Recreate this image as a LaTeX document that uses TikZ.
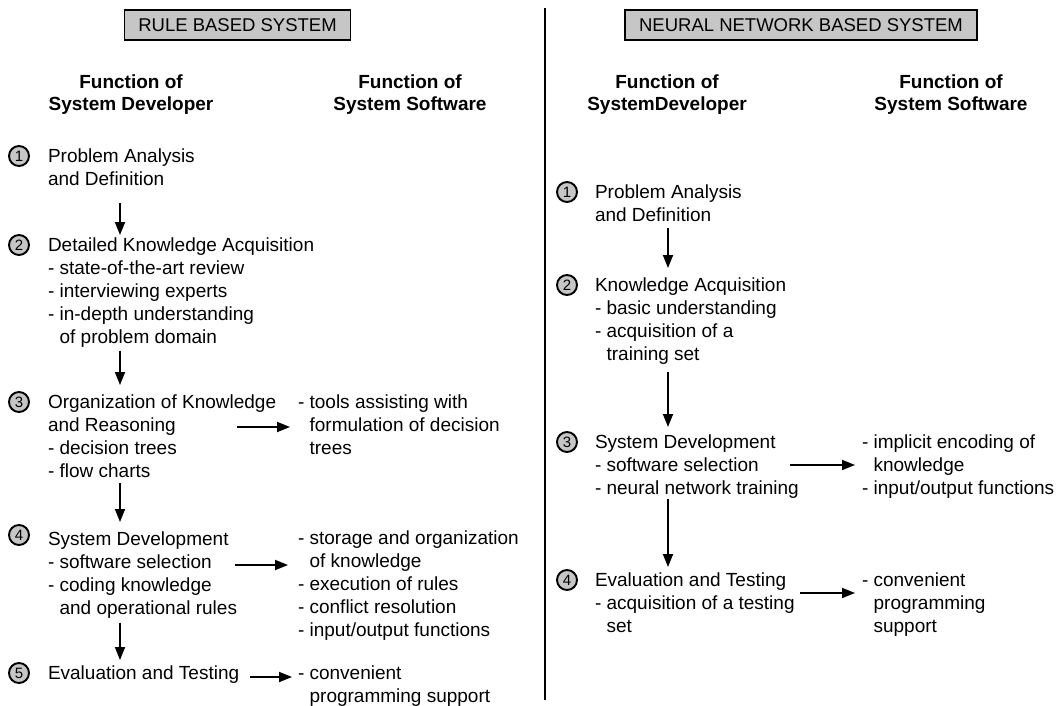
\documentclass[tikz,border=0pt]{standalone}
\usepackage{fontspec}
\setmainfont{Liberation Sans}
\usetikzlibrary{arrows.meta}
\begin{document}
\begin{tikzpicture}[x=1pt,y=-1pt,
  every node/.style={inner sep=0pt, outer sep=0pt},
  txt/.style={anchor=north west, align=left, font=\fontsize{19}{23}\selectfont},
  hd/.style={anchor=north, align=center, font=\fontsize{19}{22}\selectfont\bfseries},
  num/.style={circle, draw, line width=1.9pt, fill=gray!45, minimum size=20pt, font=\fontsize{15}{15}\selectfont},
  banner/.style={draw, line width=1.5pt, fill=gray!45, minimum height=30pt, font=\fontsize{18.5}{20}\selectfont},
  arr/.style={line width=1.8pt, -{Triangle[length=13pt,width=10pt]}},
  rule/.style={line width=1.5pt}]
\useasboundingbox (0,0) rectangle (1063,706);

% banners
\node[banner, minimum width=226pt] (bl) at (237.5,25) {RULE BASED SYSTEM};
\node[banner, minimum width=352pt] (br) at (801,25) {NEURAL NETWORK BASED SYSTEM};

% divider
\coordinate (dt) at (545,8);
\coordinate (db) at (545,700);
\draw[rule] (dt) -- (db);

% column headings
\node[hd] (hl1) at (131,75) {Function of\\System Developer};
\node[hd] (hl2) at (410,75) {Function of\\System Software};
\node[hd] (hr1) at (667,75) {Function of\\SystemDeveloper};
\node[hd] (hr2) at (951,75) {Function of\\System Software};

% ---------------- left: rule based ----------------
\node[num] (n1) at (19,156) {1};
\node[num] (n2) at (19,245) {2};
\node[num] (n3) at (19,402) {3};
\node[num] (n4) at (19,535) {4};
\node[num] (n5) at (19,673) {5};

\node[txt] (d1) at (48,149) {Problem Analysis\\and Definition};
\node[txt] (d2) at (48,238) {Detailed Knowledge Acquisition\\- state-of-the-art review\\- interviewing experts\\- in-depth understanding\\\hphantom{- }of problem domain};
\node[txt] (d3) at (48,395) {Organization of Knowledge\\and Reasoning\\- decision trees\\- flow charts};
\node[txt] (d4) at (48,532) {System Development\\- software selection\\- coding knowledge\\\hphantom{- }and operational rules};
\node[txt] (d5) at (48,666) {Evaluation and Testing};

\node[txt] (w3) at (298,395) {- tools assisting with\\\hphantom{- }formulation of decision\\\hphantom{- }trees};
\node[txt] (w4) at (298,531) {- storage and organization\\\hphantom{- }of knowledge\\- execution of rules\\- conflict resolution\\- input/output functions};
\node[txt] (w5) at (298,666) {- convenient\\\hphantom{- }programming support};

\coordinate (ax) at (120,0);
\draw[arr, shorten <=17pt, shorten >=3pt] (d1.south -| ax) -- (d2.north -| ax);
\draw[arr, shorten <=3pt, shorten >=10pt] (d2.south -| ax) -- (d3.north -| ax);
\draw[arr, shorten <=5pt, shorten >=10pt] (d3.south -| ax) -- (d4.north -| ax);
\draw[arr, shorten <=4pt, shorten >=6pt] (d4.south -| ax) -- (d5.north -| ax);

\coordinate (h3) at (237,427);
\coordinate (h4) at (235,565);
\coordinate (h5) at (250,677);
\draw[arr, shorten >=8pt] (h3) -- (h3 -| w3.west);
\draw[arr, shorten >=10pt] (h4) -- (h4 -| w4.west);
\draw[arr, shorten >=6pt] (h5) -- (h5 -| w5.west);

% ---------------- right: neural network ----------------
\node[num] (m1) at (567,192) {1};
\node[num] (m2) at (567,285) {2};
\node[num] (m3) at (567,442) {3};
\node[num] (m4) at (567,580) {4};

\node[txt] (e1) at (595,185) {Problem Analysis\\and Definition};
\node[txt] (e2) at (595,278) {Knowledge Acquisition\\- basic understanding\\- acquisition of a\\\hphantom{- }training set};
\node[txt] (e3) at (595,435) {System Development\\- software selection\\- neural network training};
\node[txt] (e4) at (595,573) {Evaluation and Testing\\- acquisition of a testing\\\hphantom{- }set};

\node[txt] (v3) at (862,435) {- implicit encoding of\\\hphantom{- }knowledge\\- input/output functions};
\node[txt] (v4) at (862,573) {- convenient\\\hphantom{- }programming\\\hphantom{- }support};

\coordinate (bx) at (668,0);
\draw[arr, shorten <=6pt, shorten >=10pt] (e1.south -| bx) -- (e2.north -| bx);
\draw[arr, shorten <=7pt, shorten >=8pt] (e2.south -| bx) -- (e3.north -| bx);
\draw[arr, shorten <=0pt, shorten >=6pt] (e3.south -| bx) -- (e4.north -| bx);

\coordinate (r3) at (790,465);
\coordinate (r4) at (800,593);
\draw[arr, shorten >=7pt] (r3) -- (r3 -| v3.west);
\draw[arr, shorten >=7pt] (r4) -- (r4 -| v4.west);
\end{tikzpicture}
\end{document}
